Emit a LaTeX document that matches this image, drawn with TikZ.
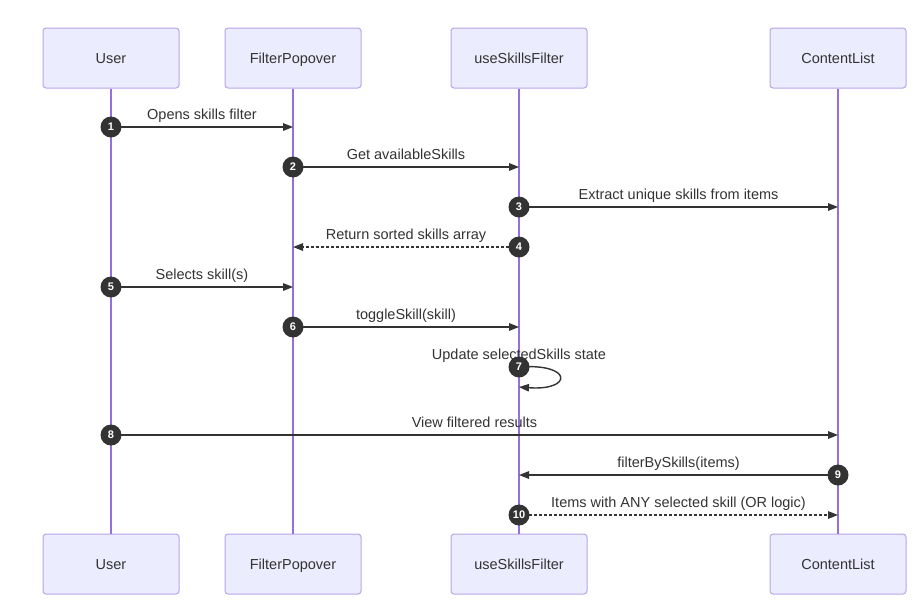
\documentclass[tikz,border=0pt]{standalone}
\usepackage{fontspec}
\setmainfont{Liberation Sans}
\usetikzlibrary{arrows.meta, positioning}
\definecolor{actorfill}{HTML}{ECECFF}
\definecolor{actorline}{HTML}{B9A3EA}
\definecolor{lifeline}{HTML}{9370DB}
\definecolor{ink}{HTML}{333333}

\begin{document}
\begin{tikzpicture}[
	x=1pt, y=-1pt,
	actor/.style={rectangle, rounded corners=3pt, draw=actorline, line width=1pt, fill=actorfill, minimum width=136pt, minimum height=60pt, text height=10pt, text depth=0pt, text=ink, font=\fontsize{14.5}{17}\selectfont},
	life/.style={draw=lifeline, line width=1.2pt},
	msg/.style={draw=ink, line width=1.4pt, -{Triangle[length=10pt, width=7.5pt]}},
	reply/.style={msg, dash pattern=on 3pt off 2pt},
	num/.style={circle, fill=ink, minimum size=21pt, inner sep=0pt, text=white, font=\fontsize{11}{12}\selectfont\bfseries},
	lbl/.style={anchor=base, yshift=7.5pt, inner sep=0pt, text=ink, font=\fontsize{14.5}{17}\selectfont}
	]
	\useasboundingbox (0,0) rectangle (920,608);

	% participants
	\node[actor] (user) at (111,58) {User};
	\node[actor] (popover) at (293,58) {FilterPopover};
	\node[actor] (hook) at (519,58) {useSkillsFilter};
	\node[actor] (list) at (838,58) {ContentList};

	\node[actor] (userB) at (111,564) {User};
	\node[actor] (popoverB) at (293,564) {FilterPopover};
	\node[actor] (hookB) at (519,564) {useSkillsFilter};
	\node[actor] (listB) at (838,564) {ContentList};

	% lifelines
	\draw[life] (user) -- (userB);
	\draw[life] (popover) -- (popoverB);
	\draw[life] (hook) -- (hookB);
	\draw[life] (list) -- (listB);

	% message start points
	\coordinate (m1) at (111,127);
	\coordinate (m2) at (293,167);
	\coordinate (m3) at (519,207);
	\coordinate (m4) at (519,247);
	\coordinate (m5) at (111,287);
	\coordinate (m6) at (293,327);
	\coordinate (m7) at (519,367);
	\coordinate (m8) at (111,435);
	\coordinate (m9) at (838,475);
	\coordinate (m10) at (519,515);

	% messages
	\draw[msg] (m1) -- node[lbl] {Opens skills filter} (m1 -| popover);
	\draw[msg] (m2) -- node[lbl] {Get availableSkills} (m2 -| hook);
	\draw[msg] (m3) -- node[lbl] {Extract unique skills from items} (m3 -| list);
	\draw[reply] (m4) -- node[lbl] {Return sorted skills array} (m4 -| popover);
	\draw[msg] (m5) -- node[lbl] {Selects skill(s)} (m5 -| popover);
	\draw[msg] (m6) -- node[lbl] {toggleSkill(skill)} (m6 -| hook);
	\draw[msg] (m7) node[lbl] {Update selectedSkills state} .. controls +(54,-4) and +(54,4) .. ([yshift=-20pt]m7);
	\draw[msg] (m8) -- node[lbl] {View filtered results} (m8 -| list);
	\draw[msg] (m9) -- node[lbl] {filterBySkills(items)} (m9 -| hook);
	\draw[reply] (m10) -- node[lbl] {Items with ANY selected skill (OR logic)} (m10 -| list);

	% sequence numbers
	\node[num] (n1) at (m1) {1};
	\node[num] (n2) at (m2) {2};
	\node[num] (n3) at (m3) {3};
	\node[num] (n4) at (m4) {4};
	\node[num] (n5) at (m5) {5};
	\node[num] (n6) at (m6) {6};
	\node[num] (n7) at (m7) {7};
	\node[num] (n8) at (m8) {8};
	\node[num] (n9) at (m9) {9};
	\node[num] (n10) at (m10) {10};
\end{tikzpicture}
\end{document}
